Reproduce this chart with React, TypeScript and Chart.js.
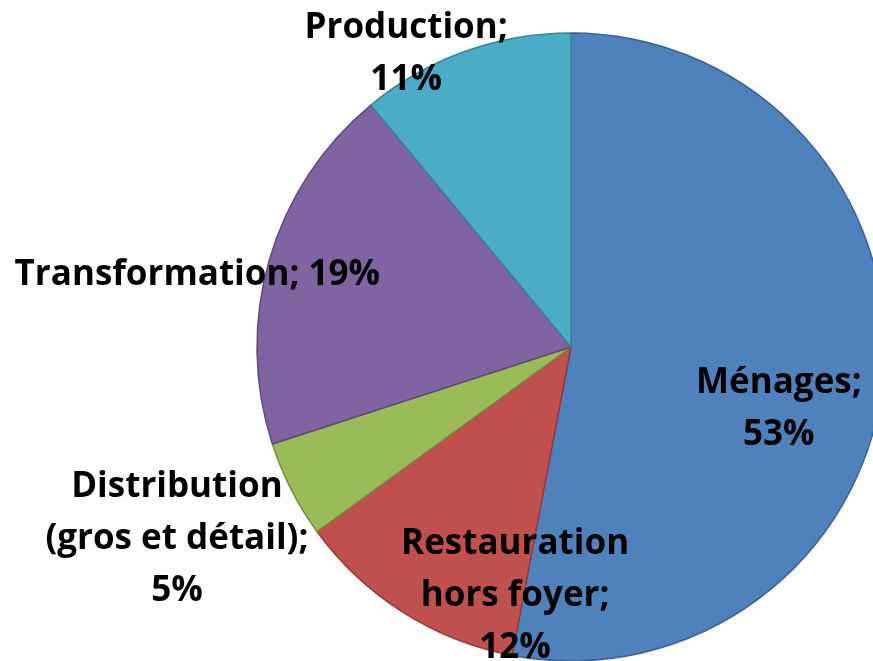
import React, { useEffect, useRef } from "react";
import { Chart, registerables } from "chart.js";

Chart.register(...registerables);

const categories = ["Ménages", "Restauration hors foyer", "Distribution (gros et détail)", "Transformation", "Production"];
const values = [53, 12, 5, 19, 11];
const labelLines = [
  ["Ménages;", "53%"],
  ["Restauration", "hors foyer;", "12%"],
  ["Distribution", "(gros et détail);", "5%"],
  ["Transformation; 19%"],
  ["Production;", "11%"],
];
const fillColors = ["#4F81BD", "#C0504D", "#9BBB59", "#8064A2", "#4BACC6"];
const borderColors = ["#3A6192", "#943B39", "#758E43", "#5F4A7A", "#38849A"];
// label block centres, as fractions of the pie radius from the pie centre
const labelOffsets = [
  [0.662, 0.189],
  [-0.178, 0.785],
  [-1.255, 0.604],
  [-1.19, -0.237],
  [-0.525, -0.941],
];

const W = 873;
const H = 661;
const FONT_SIZE = 35;
const LINE_H = 52;
const CAP_H = 25;

const labelPlugin = {
  id: "sliceLabels",
  afterDatasetsDraw(chart: any) {
    const meta = chart.getDatasetMeta(0);
    const ctx = chart.ctx;
    ctx.save();
    ctx.font = `bold ${FONT_SIZE}px "Open Sans", Lato, sans-serif`;
    ctx.fillStyle = "#000";
    ctx.textAlign = "center";
    ctx.textBaseline = "alphabetic";
    meta.data.forEach((arc: any, i: number) => {
      const { x, y, outerRadius } = arc.getProps(["x", "y", "outerRadius"], true);
      const cx = x + labelOffsets[i][0] * outerRadius;
      const cy = y + labelOffsets[i][1] * outerRadius;
      const lines = labelLines[i];
      const first = cy - ((lines.length - 1) * LINE_H) / 2 + CAP_H / 2;
      lines.forEach((t, k) => ctx.fillText(t, cx, first + k * LINE_H));
    });
    ctx.restore();
  },
};

export default function App() {
  const ref = useRef<HTMLCanvasElement>(null);
  useEffect(() => {
    if (!ref.current) return;
    const chart = new Chart(ref.current, {
      type: "pie",
      data: {
        labels: categories,
        datasets: [
          {
            data: values,
            backgroundColor: fillColors,
            borderColor: borderColors,
            borderWidth: 1.5,
          },
        ],
      },
      options: {
        responsive: false,
        animation: false,
        radius: 314,
        layout: { padding: { left: 269, top: 33, right: 0, bottom: 0 } },
        plugins: {
          legend: { display: false },
          tooltip: { enabled: false },
          title: { display: false },
        },
      } as any,
      plugins: [labelPlugin],
    });
    return () => chart.destroy();
  }, []);
  return (
    <div style={{ position: "fixed", left: 0, top: 0, width: W, height: H, overflow: "hidden", background: "#fff" }}>
      <canvas ref={ref} width={W} height={H} style={{ width: W, height: H, display: "block" }} />
    </div>
  );
}
